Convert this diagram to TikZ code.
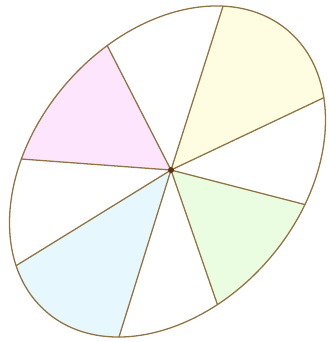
\documentclass[tikz,border=0pt]{standalone}
\usepackage{tikz}

\definecolor{rim}{RGB}{145,115,68}
\definecolor{hubdot}{RGB}{95,50,10}
\definecolor{pieyellow}{RGB}{255,253,225}
\definecolor{piepink}{RGB}{253,230,253}
\definecolor{piegreen}{RGB}{235,253,225}
\definecolor{pieblue}{RGB}{230,247,253}

\begin{document}
\begin{tikzpicture}[x=0.03cm, y=0.03cm, line width=1.1pt,
    spoke/.style={draw=rim, line cap=round}]
    \useasboundingbox (-167.5,-170.5) rectangle (161.5,171.5);
    \begin{scope}[rotate=49.26]
        \def\rx{185.4}
        \def\ry{134.1}
        \coordinate (hub) at (3.4,-1.7);
        % coloured sectors
        \foreach \a/\b/\c in {-31.6/29.4/pieyellow, -111.6/-69.6/piegreen,
                              156.6/212.1/pieblue, 72.4/117.6/piepink}
            \fill[\c] (hub) -- ({\a}:{\rx} and {\ry})
                arc[start angle=\a, end angle=\b, x radius=\rx, y radius=\ry] -- cycle;
        % rim and spokes
        \draw[rim] (0,0) ellipse [x radius=\rx, y radius=\ry];
        \foreach \t in {29.4, -31.6, -69.6, -111.6, 212.1, 156.6, 117.6, 72.4}
            \draw[spoke] (hub) -- ({\t}:{\rx} and {\ry});
        \fill[hubdot] (hub) circle (3);
    \end{scope}
\end{tikzpicture}
\end{document}
